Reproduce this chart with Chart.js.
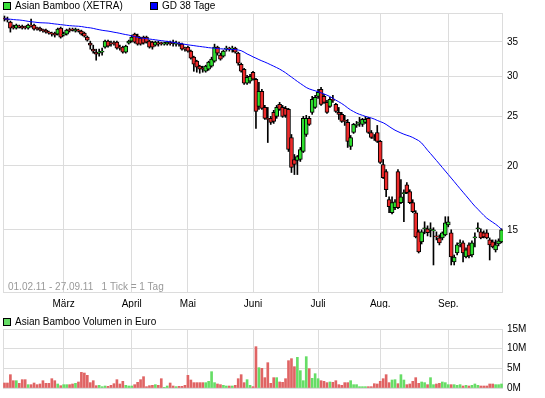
<!DOCTYPE html>
<html>
<head>
<meta charset="utf-8">
<title>Asian Bamboo (XETRA)</title>
<script src="https://cdn.jsdelivr.net/npm/chart.js@4.4.1/dist/chart.umd.min.js"></script>
<style>
  body { margin: 0; background: #fff; }
  #wrap { position: relative; width: 545px; height: 398px; overflow: hidden; }
  canvas { position: absolute; left: 0; }
</style>
</head>
<body>
<div id="wrap">
  <canvas id="priceChart" width="545" height="308" style="top:0"></canvas>
  <canvas id="volChart" width="545" height="90" style="top:308px"></canvas>
</div>
<script>
// XETRA trading days 01.02.11 - 27.09.11 (Karfreitag / Ostermontag closed)
const holidays = ['2011-04-22', '2011-04-25'];
const monthNames = ['März', 'April', 'Mai', 'Juni', 'Juli', 'Aug.', 'Sep.'];
const priceTicks = [15, 20, 25, 30, 35];
const volumeTicks = [0, 5, 10, 15];

const opens = [38.97,38.79,38.27,37.41,37.24,37.50,37.58,37.41,37.24,37.75,
  37.75,37.24,37.24,36.90,36.90,36.57,36.41,36.41,36.24,37.24,
  36.08,36.24,36.90,37.07,36.74,36.90,36.74,36.41,35.76,34.80,
  33.86,33.41,33.26,33.41,34.17,35.11,34.80,34.80,34.95,34.17,
  34.17,33.41,34.80,35.11,36.24,35.92,35.59,35.76,35.76,35.11,
  34.95,34.48,34.80,34.80,34.64,34.64,34.80,34.95,34.64,34.80,
  34.64,34.02,34.17,33.56,32.66,32.08,31.36,31.07,30.65,30.93,
  31.36,32.08,34.17,32.96,32.81,33.86,34.02,33.86,34.02,33.26,
  31.64,30.93,29.04,29.30,30.52,29.57,26.16,28.01,26.04,24.79,
  24.79,25.47,25.01,26.40,26.04,25.93,25.81,22.74,20.59,20.50,
  20.59,21.35,23.05,24.79,25.47,26.04,27.38,28.26,27.38,26.64,
  26.16,27.01,26.40,25.47,25.24,24.56,24.34,21.84,23.26,24.01,
  24.23,24.12,24.34,24.79,23.26,22.74,23.26,22.34,20.13,19.50,
  17.18,16.20,16.57,19.50,16.95,17.65,18.38,17.81,16.95,16.20,
  14.86,14.20,15.07,15.07,15.00,14.93,14.59,14.46,14.46,14.66,
  15.34,14.80,12.97,13.51,14.07,14.14,13.27,14.01,13.39,14.46,
  15.07,14.86,14.80,14.80,14.33,14.20,13.70,14.07,14.20];

const highs = [39.32,39.14,38.44,37.75,37.92,37.75,37.75,37.58,37.92,38.79,
  37.92,37.41,37.41,37.07,37.07,36.74,36.57,36.57,37.24,37.41,
  36.57,37.07,37.24,37.24,37.24,37.07,36.90,36.57,35.92,35.11,
  34.48,33.86,33.86,34.02,35.27,35.27,35.11,35.11,35.11,34.48,
  34.33,34.48,35.27,36.08,36.41,36.24,35.76,35.92,35.92,35.27,
  35.11,35.11,35.11,34.95,34.95,35.11,35.11,35.27,35.11,34.95,
  34.80,34.17,34.33,33.71,32.81,32.22,31.50,31.36,31.50,32.08,
  32.66,34.64,34.33,33.26,33.71,34.33,34.17,34.33,34.17,33.41,
  31.79,31.07,30.11,30.24,30.65,29.70,29.17,28.26,26.28,26.04,
  25.01,25.70,26.28,26.64,26.28,26.16,25.93,23.05,21.06,20.97,
  21.74,25.01,25.13,25.01,27.38,27.51,28.26,28.52,27.63,26.89,
  27.26,27.51,26.52,26.04,25.47,25.13,24.67,22.95,24.23,24.45,
  24.90,24.79,25.01,24.90,23.47,23.05,24.01,22.44,20.59,19.68,
  17.41,17.41,17.18,19.68,18.81,17.97,18.55,17.97,17.18,16.35,
  15.00,15.00,15.55,15.27,15.48,15.14,14.86,14.66,14.86,15.91,
  15.91,15.00,13.39,14.14,14.33,14.27,13.82,14.14,14.27,14.80,
  15.48,15.07,14.93,15.00,14.46,14.33,14.33,14.40,15.07];

const lows = [38.44,38.27,36.57,37.07,37.07,37.24,37.07,37.07,37.07,37.41,
  36.90,36.90,36.74,36.57,36.41,36.24,35.92,35.76,36.08,35.59,
  35.92,36.08,36.57,36.74,36.57,36.57,36.08,35.76,35.11,33.86,
  33.26,32.22,32.81,32.96,34.02,34.17,34.33,34.48,33.86,33.71,
  33.26,33.26,34.64,34.95,34.80,34.48,34.48,34.64,34.80,34.02,
  33.86,34.33,34.33,34.48,34.48,34.48,34.48,34.33,34.33,34.33,
  33.71,33.56,33.41,32.37,30.65,30.52,30.38,30.52,30.52,30.79,
  31.22,31.93,32.96,32.22,32.66,33.56,33.56,33.41,33.26,31.50,
  30.52,28.90,28.90,29.04,29.44,23.69,25.81,25.81,24.67,22.23,
  24.12,24.23,24.79,25.70,24.90,24.90,21.35,19.42,19.24,19.24,
  20.41,21.25,22.85,24.01,25.24,25.93,27.13,26.28,26.52,25.35,
  26.04,26.64,25.47,24.67,24.34,24.01,21.74,21.54,23.16,23.80,
  23.90,23.90,24.23,23.16,22.64,22.44,22.23,20.22,18.90,17.41,
  16.20,16.12,16.42,16.49,16.87,15.55,17.65,16.87,16.20,14.46,
  13.51,14.07,14.73,14.59,14.53,12.80,14.33,14.01,14.33,14.59,
  15.20,12.80,12.80,13.39,13.88,12.97,13.21,13.21,13.27,13.88,
  14.86,14.40,14.46,14.40,13.09,13.82,13.57,13.95,14.14];

const closes = [38.79,38.62,37.24,37.33,37.75,37.41,37.24,37.33,37.75,37.58,
  37.07,37.15,36.90,36.82,36.57,36.41,36.24,36.08,37.07,35.76,
  36.24,36.90,36.82,36.90,37.07,36.74,36.24,35.92,35.27,34.48,
  33.56,33.11,33.41,33.56,35.11,34.33,34.64,34.72,34.02,34.02,
  33.41,34.33,35.11,35.76,34.95,34.64,34.64,34.80,34.95,34.17,
  34.17,34.95,34.64,34.72,34.80,34.95,34.72,34.80,34.80,34.64,
  33.86,33.86,33.56,32.52,31.64,31.22,30.93,30.93,31.36,31.93,
  32.37,34.17,33.26,32.37,33.56,34.02,33.86,34.02,33.41,31.79,
  30.65,29.04,29.84,29.97,29.57,25.58,28.01,25.93,24.79,24.67,
  24.34,24.45,26.04,25.81,25.01,25.13,21.54,19.86,20.13,20.87,
  21.54,24.79,24.79,24.12,27.01,27.26,27.88,26.40,26.64,25.47,
  27.01,26.89,25.58,25.24,24.45,24.45,22.34,22.74,24.12,24.12,
  24.34,24.67,24.67,23.26,22.74,22.64,22.34,20.32,18.98,17.97,
  16.64,16.95,17.02,16.57,17.41,17.73,17.73,16.95,16.27,14.53,
  13.57,14.86,15.14,14.80,15.07,15.00,14.53,14.14,14.80,15.48,
  15.55,13.27,13.27,14.01,14.14,13.51,13.70,13.33,14.14,14.53,
  15.14,14.46,14.53,14.46,14.01,13.88,14.01,14.27,15.00];

// GD 38 Tage
const ma38 = [38.83,38.79,38.76,38.70,38.65,38.62,38.56,38.48,38.39,38.32,
  38.27,38.20,38.15,38.13,38.11,38.08,38.01,37.94,37.89,37.82,
  37.77,37.70,37.65,37.61,37.58,37.55,37.50,37.41,37.33,37.28,
  37.19,37.07,36.97,36.87,36.80,36.74,36.65,36.55,36.47,36.37,
  36.26,36.16,36.08,35.95,35.83,35.72,35.62,35.56,35.51,35.45,
  35.38,35.32,35.25,35.19,35.13,35.06,35.00,34.92,34.84,34.76,
  34.69,34.61,34.53,34.47,34.41,34.34,34.28,34.22,34.16,34.09,
  34.05,34.00,33.95,33.92,33.89,33.86,33.83,33.82,33.80,33.74,
  33.63,33.41,33.14,32.94,32.71,32.52,32.31,32.12,31.95,31.76,
  31.56,31.36,31.16,30.95,30.71,30.45,30.15,29.86,29.57,29.28,
  29.01,28.75,28.49,28.31,28.18,28.07,27.95,27.81,27.67,27.52,
  27.35,27.13,26.91,26.71,26.50,26.26,25.99,25.75,25.56,25.38,
  25.24,25.13,25.01,24.92,24.83,24.71,24.56,24.43,24.30,24.12,
  23.90,23.69,23.50,23.35,23.21,23.08,22.97,22.87,22.74,22.58,
  22.42,22.18,21.83,21.47,21.15,20.82,20.50,20.18,19.86,19.55,
  19.24,18.94,18.64,18.34,18.05,17.77,17.49,17.22,16.94,16.68,
  16.46,16.23,16.01,15.81,15.66,15.52,15.38,15.22,15.03];

// Volumen in Mio. Euro
const volume = [1.27,1.27,3.39,1.86,1.86,1.19,2.12,2.12,0.85,0.85,
  1.27,0.85,1.02,1.86,1.19,1.19,2.37,1.86,1.02,0.59,
  0.85,0.85,0.85,1.02,1.19,1.53,3.98,3.81,3.22,1.36,
  1.86,0.59,0.68,0.34,0.51,0.42,0.68,1.10,2.12,1.02,
  1.69,0.68,0.51,0.51,0.85,1.44,2.12,2.88,0.34,0.59,
  0.68,0.85,0.68,2.37,0.17,0.51,1.27,0.51,0.34,0.42,
  0.42,0.68,3.22,2.03,1.36,1.36,1.36,1.36,1.36,1.69,
  4.15,1.36,1.02,0.85,0.68,0.51,0.51,0.51,0.68,2.37,
  3.39,1.36,2.12,0.68,0.34,10.51,5.17,5.00,2.63,6.44,
  1.19,2.63,2.63,1.53,1.44,2.37,6.95,7.46,5.42,7.80,
  4.41,1.86,7.97,4.92,2.46,3.64,2.37,1.86,1.69,1.36,
  1.53,1.44,1.86,0.85,0.68,1.36,1.36,1.86,0.85,0.85,
  0.34,0.34,0.34,0.34,0.34,1.10,1.02,1.69,2.37,3.39,
  1.36,2.03,2.12,1.10,3.39,2.03,0.85,1.02,1.69,2.63,
  1.19,1.53,1.36,0.85,2.63,0.85,1.02,1.19,1.53,1.36,
  0.85,0.85,0.85,0.68,0.85,0.51,0.68,0.51,0.68,1.02,
  0.68,0.51,0.51,0.51,1.02,1.02,0.85,0.85,1.02];

// build the day labels
const days = [];
for (let d = new Date(Date.UTC(2011, 1, 1)); d <= new Date(Date.UTC(2011, 8, 27)); d.setUTCDate(d.getUTCDate() + 1)) {
  const iso = d.toISOString().slice(0, 10);
  const wd = d.getUTCDay();
  if (wd === 0 || wd === 6 || holidays.includes(iso)) continue;
  days.push(iso);
}
const monthStarts = [];
days.forEach((d, i) => {
  if (i > 0 && d.slice(5, 7) !== days[i - 1].slice(5, 7)) monthStarts.push(i);
});

const RED = '#ee2a2a';
const GREEN = '#2ee02e';
const candleColors = closes.map((c, i) => (c >= opens[i] ? GREEN : RED));
const volColors = closes.map((c, i) => (c > opens[i] ? '#66dd66' : c < opens[i] ? '#e06464' : '#bbbbbb'));

Chart.defaults.font.family = '"Liberation Sans", Arial, sans-serif';
Chart.defaults.font.size = 10;
Chart.defaults.color = '#000';

const GRID = '#dcdcdc';

const framePlugin = {
  id: 'frame',
  beforeDatasetsDraw(chart) {
    const { ctx, chartArea: a } = chart;
    ctx.save();
    ctx.strokeStyle = GRID;
    ctx.lineWidth = 1;
    ctx.strokeRect(Math.round(a.left) + 0.5, Math.round(a.top) + 0.5,
      Math.round(a.right - a.left) - 1, Math.round(a.bottom - a.top) - 1);
    ctx.restore();
  }
};

function legendRow(items, top, note) {
  return {
    id: 'legendRow',
    afterDraw(chart) {
      const ctx = chart.ctx;
      ctx.save();
      ctx.font = '10px "Liberation Sans", Arial, sans-serif';
      ctx.textBaseline = 'middle';
      items.forEach(it => {
        ctx.fillStyle = it.color;
        ctx.fillRect(it.x, top, 8, 8);
        ctx.strokeStyle = '#000';
        ctx.lineWidth = 1;
        ctx.strokeRect(it.x + 0.5, top + 0.5, 7, 7);
        ctx.fillStyle = '#000';
        ctx.fillText(it.text, it.x + 12, top + 4.5);
      });
      if (note) {
        const a = chart.chartArea;
        ctx.fillStyle = '#999';
        ctx.textBaseline = 'alphabetic';
        ctx.fillText(note, a.left + 5, a.bottom - 3);
      }
      ctx.restore();
    }
  };
}

function xScale(showLabels) {
  return {
    type: 'category',
    offset: true,
    grid: { offset: false, color: GRID, drawTicks: false },
    border: { display: false },
    ticks: {
      display: showLabels,
      autoSkip: false,
      maxRotation: 0,
      padding: 5,
      callback: v => monthNames[monthStarts.indexOf(v)]
    },
    afterBuildTicks: s => { s.ticks = monthStarts.map(v => ({ value: v })); },
    afterFit: s => { s.height = showLabels ? 15 : 0; }
  };
}

new Chart(document.getElementById('priceChart'), {
  type: 'bar',
  data: {
    labels: days,
    datasets: [
      {
        type: 'line',
        label: 'GD 38 Tage',
        data: ma38,
        borderColor: '#0000ff',
        borderWidth: 1,
        pointRadius: 0,
        order: 0
      },
      {
        label: 'Asian Bamboo (XETRA)',
        data: opens.map((o, i) => [o, closes[i]]),
        backgroundColor: candleColors,
        borderColor: '#000',
        borderWidth: 1,
        borderSkipped: false,
        barThickness: 4,
        minBarLength: 1,
        grouped: false,
        order: 1
      },
      {
        label: 'wick',
        data: lows.map((l, i) => [l, highs[i]]),
        backgroundColor: '#000',
        barThickness: 1,
        grouped: false,
        order: 2
      }
    ]
  },
  options: {
    responsive: false,
    animation: false,
    layout: { padding: { left: 3, top: 13, right: 0, bottom: 0 } },
    plugins: { legend: { display: false }, tooltip: { enabled: false } },
    scales: {
      x: xScale(true),
      y: {
        type: 'logarithmic',
        position: 'right',
        min: 11.28,
        max: 39.86,
        grid: { color: GRID, drawTicks: false },
        border: { display: false },
        ticks: { padding: 4, callback: v => String(v) },
        afterBuildTicks: s => { s.ticks = priceTicks.map(v => ({ value: v })); },
        afterFit: s => { s.width = 42; }
      }
    }
  },
  plugins: [framePlugin, legendRow([
    { text: 'Asian Bamboo (XETRA)', color: '#3be03b', x: 3 },
    { text: 'GD 38 Tage', color: '#0000ff', x: 150 }
  ], 2, '01.02.11 - 27.09.11   1 Tick = 1 Tag')]
});

new Chart(document.getElementById('volChart'), {
  type: 'bar',
  data: {
    labels: days,
    datasets: [{
      label: 'Asian Bamboo Volumen in Euro',
      data: volume,
      backgroundColor: volColors,
      barThickness: 2
    }]
  },
  options: {
    responsive: false,
    animation: false,
    layout: { padding: { left: 3, top: 21, right: 0, bottom: 10 } },
    plugins: { legend: { display: false }, tooltip: { enabled: false } },
    scales: {
      x: xScale(false),
      y: {
        position: 'right',
        min: 0,
        max: 15,
        grid: { color: GRID, drawTicks: false },
        border: { display: false },
        ticks: { padding: 4, callback: v => v + 'M' },
        afterBuildTicks: s => { s.ticks = volumeTicks.map(v => ({ value: v })); },
        afterFit: s => { s.width = 42; }
      }
    }
  },
  plugins: [framePlugin, legendRow([
    { text: 'Asian Bamboo Volumen in Euro', color: '#66dd66', x: 3 }
  ], 10)]
});
</script>
</body>
</html>
